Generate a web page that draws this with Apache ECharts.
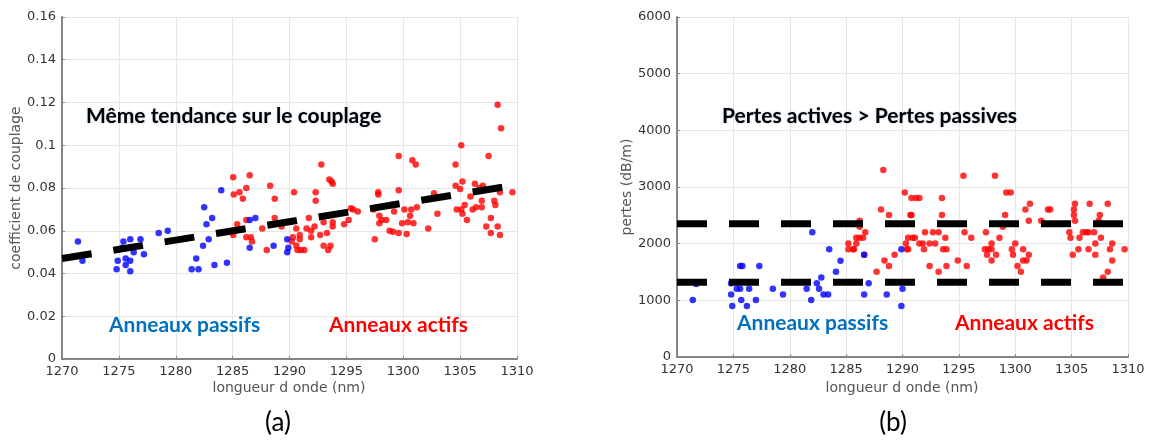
<!DOCTYPE html>
<html>
<head>
<meta charset="utf-8">
<script src="https://cdn.jsdelivr.net/npm/echarts@6/dist/echarts.min.js"></script>
<style>html,body{margin:0;padding:0;background:#fff}#c{width:1152px;height:442px}</style>
</head>
<body>
<div id="c"></div>
<script>
// ---- data (wavelength nm, value) ----
var couplingPassive = [[1271.4,0.055],[1271.8,0.046],[1274.8,0.042],[1274.9,0.046],[1275.4,0.055],[1275.3,0.052],[1275.6,0.047],[1276.0,0.046],[1275.6,0.044],[1276.0,0.041],[1276.0,0.056],[1276.3,0.050],[1276.9,0.056],[1277.2,0.049],[1278.5,0.059],[1279.3,0.060],[1281.4,0.042],[1281.8,0.047],[1282.0,0.042],[1282.4,0.053],[1282.5,0.071],[1282.7,0.063],[1282.9,0.056],[1283.2,0.066],[1283.4,0.044],[1284.0,0.079],[1284.5,0.045],[1286.5,0.052],[1286.5,0.065],[1287.0,0.066],[1288.6,0.053],[1289.8,0.056],[1289.8,0.050],[1289.9,0.052]];
var couplingActive = [[1285.05,0.085],[1286.5,0.086],[1286.2,0.080],[1285.6,0.078],[1285.1,0.077],[1285.9,0.075],[1288.3,0.081],[1288.7,0.075],[1290.4,0.078],[1285.4,0.063],[1285.05,0.058],[1286.2,0.065],[1286.2,0.057],[1286.6,0.057],[1286.7,0.055],[1287.6,0.061],[1288.0,0.051],[1288.7,0.066],[1289.3,0.062],[1290.6,0.061],[1290.3,0.057],[1290.2,0.055],[1290.6,0.053],[1290.7,0.051],[1292.3,0.078],[1292.3,0.074],[1293.7,0.083],[1293.8,0.082],[1292.8,0.091],[1293.5,0.084],[1290.9,0.058],[1290.9,0.056],[1291.0,0.051],[1291.3,0.051],[1291.5,0.061],[1291.7,0.066],[1291.9,0.060],[1291.9,0.057],[1292.2,0.062],[1292.7,0.058],[1293.0,0.064],[1293.0,0.053],[1293.3,0.059],[1293.4,0.051],[1293.6,0.053],[1293.8,0.064],[1293.8,0.062],[1294.8,0.063],[1295.2,0.065],[1295.4,0.0705],[1295.6,0.070],[1296.0,0.069],[1297.4,0.070],[1297.5,0.056],[1297.8,0.078],[1297.8,0.077],[1297.9,0.067],[1298.1,0.065],[1297.9,0.0635],[1298.5,0.065],[1298.8,0.060],[1299.1,0.0595],[1299.2,0.069],[1299.6,0.059],[1299.6,0.079],[1299.6,0.095],[1299.9,0.0635],[1300.1,0.070],[1300.3,0.0585],[1300.4,0.064],[1300.6,0.067],[1300.7,0.070],[1300.8,0.093],[1300.9,0.0635],[1301.1,0.091],[1301.2,0.071],[1302.2,0.061],[1302.7,0.0775],[1303.0,0.068],[1304.6,0.091],[1304.6,0.081],[1304.7,0.070],[1305.0,0.0795],[1305.1,0.100],[1305.2,0.083],[1305.1,0.070],[1305.2,0.068],[1305.4,0.072],[1305.6,0.065],[1305.9,0.076],[1306.1,0.070],[1306.3,0.082],[1306.4,0.071],[1306.7,0.080],[1306.9,0.074],[1306.9,0.071],[1307.0,0.081],[1307.3,0.062],[1307.5,0.095],[1307.7,0.066],[1307.7,0.059],[1308.0,0.074],[1308.1,0.072],[1308.3,0.062],[1308.3,0.119],[1308.5,0.058],[1308.5,0.078],[1308.6,0.108],[1309.6,0.078]];
var couplingTrend = [[1270,0.047],[1310,0.0815]];

var lossPassive = [[1271.4,1005],[1271.7,1290],[1274.8,1300],[1274.8,1105],[1274.9,900],[1275.6,1605],[1275.8,1605],[1275.3,1205],[1275.6,1205],[1275.7,1005],[1276.2,900],[1276.4,1205],[1277.0,1005],[1277.3,1605],[1278.5,1205],[1279.4,1105],[1281.5,1205],[1281.9,1005],[1282.0,2200],[1282.4,1300],[1282.6,1205],[1282.8,1405],[1283.0,1105],[1283.4,1105],[1283.5,1900],[1284.1,1505],[1284.5,1700],[1286.6,1805],[1286.6,1105],[1287.0,1300],[1288.6,1105],[1289.9,1900],[1290.0,1205],[1289.9,900]];
var lossActive = [[1288.3,3300],[1290.2,2905],[1290.8,2805],[1291.2,2805],[1291.5,2805],[1293.5,2805],[1295.4,3200],[1298.2,3200],[1299.2,2905],[1299.6,2905],[1288.1,2605],[1288.8,2505],[1290.7,2505],[1290.8,2505],[1293.5,2505],[1299.1,2505],[1298.9,2300],[1300.9,2605],[1301.3,2705],[1301.2,2405],[1302.3,2405],[1302.9,2605],[1303.1,2605],[1305.3,2705],[1305.2,2605],[1305.2,2505],[1305.3,2405],[1306.6,2705],[1308.2,2705],[1307.5,2505],[1307.4,2405],[1286.2,2405],[1286.2,2300],[1286.7,2200],[1285.9,2105],[1286.2,2105],[1286.5,2105],[1285.2,2005],[1285.9,2005],[1285.2,1900],[1285.6,1900],[1285.7,1900],[1286.6,1805],[1292.0,2200],[1292.7,2200],[1293.2,2200],[1290.5,2105],[1290.9,2105],[1291.1,2105],[1290.3,2005],[1291.5,2005],[1291.8,2005],[1292.4,2005],[1292.9,2005],[1290.4,1900],[1290.5,1900],[1291.9,1900],[1293.8,2105],[1293.6,1900],[1293.9,1900],[1289.3,1805],[1288.4,1705],[1288.8,1605],[1287.7,1505],[1292.4,1605],[1293.2,1505],[1293.9,1605],[1294.9,1705],[1295.7,1605],[1295.5,2200],[1296.1,2105],[1297.4,2200],[1297.9,2005],[1297.3,1900],[1297.6,1900],[1297.9,1900],[1297.5,1805],[1297.9,1705],[1298.3,1805],[1298.6,2105],[1299.7,1900],[1299.8,1805],[1300.0,2005],[1300.2,1605],[1300.5,1505],[1300.7,1900],[1300.7,1705],[1301.0,1705],[1301.2,1805],[1304.8,2200],[1304.9,2105],[1305.1,1805],[1305.6,1900],[1305.7,2105],[1306.0,2200],[1306.3,2200],[1306.5,2200],[1307.0,2200],[1306.5,1900],[1307.1,2005],[1307.1,1805],[1307.6,2105],[1308.4,1900],[1308.6,2005],[1308.6,1705],[1308.2,1505],[1307.8,1405],[1309.7,1900]];
var lossActiveLevel = [[1270,2350],[1310,2350]];
var lossPassiveLevel = [[1270,1320],[1310,1320]];

var labels = {
  xName: 'longueur d onde (nm)',
  yLeft: 'coefficient de couplage',
  yRight: 'pertes (dB/m)',
  noteLeft: 'Même tendance sur le couplage',
  noteRight: 'Pertes actives > Pertes passives',
  passive: 'Anneaux passifs',
  active: 'Anneaux actifs',
  a: '(a)', b: '(b)'
};

var chart = echarts.init(document.getElementById('c'), null, {renderer: 'canvas'});
var tickFont = {color: '#333', fontFamily: 'DejaVu Sans', fontSize: 13};
var axisCol = '#858585';
function xAxis(gi) {
  return {type: 'value', gridIndex: gi, min: 1270, max: 1310, interval: 5,
    axisLine: {show: true, onZero: false, lineStyle: {color: axisCol, width: 2}},
    axisTick: {show: true, inside: true, length: 3, lineStyle: {color: axisCol}},
    axisLabel: Object.assign({margin: 6, formatter: function (v) { return String(v); }}, tickFont),
    splitLine: {show: true, lineStyle: {color: '#e6e6e6', width: 1}}};
}
function yAxis(gi, max, interval, fmt) {
  return {type: 'value', gridIndex: gi, min: 0, max: max, interval: interval,
    axisLine: {show: true, onZero: false, lineStyle: {color: axisCol, width: 2}},
    axisTick: {show: true, inside: true, length: 3, lineStyle: {color: axisCol}},
    axisLabel: Object.assign({margin: 6, formatter: fmt}, tickFont),
    splitLine: {show: true, lineStyle: {color: '#e6e6e6', width: 1}}};
}
function dots(xi, data, color) {
  return {type: 'scatter', xAxisIndex: xi, yAxisIndex: xi, data: data, symbol: 'circle', symbolSize: 6.5,
    itemStyle: {color: color}, silent: true, animation: false};
}
function dash(xi, data) {
  return {type: 'line', xAxisIndex: xi, yAxisIndex: xi, data: data, symbol: 'none', silent: true, animation: false,
    lineStyle: {color: '#000', width: 7, type: [30, 22], cap: 'butt'}, z: 5};
}
function txt(x, y, text, style) {
  return {type: 'text', left: x, top: y, silent: true, z: 100,
    style: Object.assign({text: text, fontFamily: 'Lato', fontWeight: 'bold', fontSize: 21, fill: '#000'}, style)};
}
var nameStyle = {fontFamily: 'DejaVu Sans', fontSize: 14, fill: '#555', align: 'center', verticalAlign: 'middle'};
var g = [];
g.push(txt(86, 106, labels.noteLeft, {textShadowColor: 'rgba(0,80,160,0.35)', textShadowBlur: 2}));
g.push(txt(109, 315, labels.passive, {fill: '#0070C0'}));
g.push(txt(329, 315, labels.active, {fill: '#FF0000'}));
g.push(txt(722, 106, labels.noteRight, {textShadowColor: 'rgba(0,80,160,0.35)', textShadowBlur: 2}));
g.push(txt(737, 313, labels.passive, {fill: '#0070C0'}));
g.push(txt(955, 313, labels.active, {fill: '#FF0000'}));
// axis names
g.push({type: 'text', x: 289, y: 388, silent: true, style: Object.assign({text: labels.xName}, nameStyle)});
g.push({type: 'text', x: 902, y: 388, silent: true, style: Object.assign({text: labels.xName}, nameStyle)});
g.push({type: 'text', x: 16, y: 188, rotation: Math.PI / 2, silent: true, style: Object.assign({text: labels.yLeft}, nameStyle)});
g.push({type: 'text', x: 627, y: 187, rotation: Math.PI / 2, silent: true, style: Object.assign({text: labels.yRight}, nameStyle)});
g.push({type: 'text', x: 278, y: 423, silent: true, style: {text: labels.a, fontFamily: 'Lato', fontSize: 26, fill: '#000', align: 'center', verticalAlign: 'middle'}});
g.push({type: 'text', x: 893, y: 423, silent: true, style: {text: labels.b, fontFamily: 'Lato', fontSize: 26, fill: '#000', align: 'center', verticalAlign: 'middle'}});

chart.setOption({
  animation: false,
  backgroundColor: '#fff',
  grid: [
    {left: 62, top: 17, width: 455, height: 342},
    {left: 677, top: 17, width: 451, height: 340}
  ],
  xAxis: [xAxis(0), xAxis(1)],
  yAxis: [
    yAxis(0, 0.16, 0.02, function (v) { return v === 0 ? '0' : String(+v.toFixed(2)); }),
    yAxis(1, 6000, 1000, function (v) { return String(v); })
  ],
  series: [
    dots(0, couplingActive, '#FF0000'),
    dots(0, couplingPassive, '#0000FF'),
    dash(0, couplingTrend),
    dots(1, lossActive, '#FF0000'),
    dots(1, lossPassive, '#0000FF'),
    dash(1, lossActiveLevel),
    dash(1, lossPassiveLevel)
  ],
  graphic: g
});
</script>
</body>
</html>
